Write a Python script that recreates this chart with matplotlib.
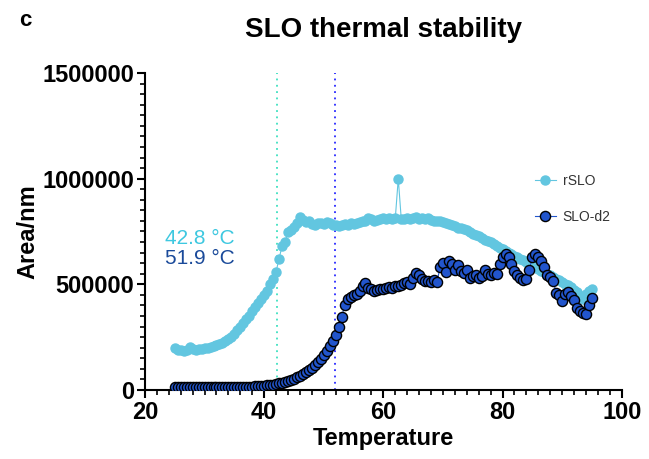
import numpy as np
import matplotlib
matplotlib.use('Agg')
import matplotlib.pyplot as plt
from matplotlib.ticker import MultipleLocator, FormatStrFormatter

plt.rcParams['font.family'] = ['Liberation Sans', 'DejaVu Sans']

# temperatures 25..95 in 0.5 steps
temp = np.arange(25, 95.01, 0.5)

# rSLO area (thousands)
rslo = [200, 190, 187, 185, 188, 205, 192, 190, 193, 195,
        197, 200, 203, 207, 212, 218, 224, 230, 240, 252,
        265, 282, 300, 318, 335, 352, 375, 395, 410, 430,
        450, 468, 500, 525, 560, 622, 680, 700, 748, 758,
        770, 790, 818, 805, 795, 800, 785, 780, 790, 788,
        785, 795, 788, 780, 782, 778, 780, 785, 782, 788,
        785, 790, 795, 798, 800, 815, 810, 800, 805, 808,
        812, 808, 815, 810, 812, 1000, 810, 808, 815, 810,
        812, 818, 808, 812, 810, 815, 805, 800, 802, 798,
        795, 790, 785, 780, 775, 768, 765, 760, 755, 748,
        740, 732, 728, 720, 712, 705, 698, 690, 682, 672,
        665, 658, 650, 643, 635, 628, 620, 614, 607, 598,
        590, 582, 572, 565, 558, 550, 543, 535, 527, 520,
        512, 503, 495, 486, 475, 462, 445, 432, 455, 468,
        480]

# SLO-d2 area (thousands)
slod2 = [15, 15, 14, 15, 15, 14, 15, 15, 15, 14,
         15, 15, 15, 15, 15, 15, 15, 15, 15, 15,
         15, 15, 15, 15, 15, 15, 16, 17, 18, 19,
         20, 22, 24, 26, 28, 31, 34, 38, 42, 47,
         53, 60, 67, 75, 84, 95, 106, 118, 132, 148,
         165, 185, 207, 232, 262, 300, 345, 400, 430, 440,
         450, 455, 470, 490, 505, 485, 478, 470, 472, 478,
         480, 483, 487, 485, 490, 492, 495, 505, 512, 500,
         530, 555, 545, 525, 518, 515, 512, 520, 510, 580,
         600, 560, 610, 595, 570, 590, 565, 555, 568, 530,
         540, 545, 530, 540, 568, 548, 545, 552, 550, 595,
         630, 645, 630, 595, 565, 545, 530, 520, 525, 570,
         630, 645, 630, 610, 580, 545, 535, 515, 460, 450,
         420, 455, 465, 445, 425, 390, 372, 365, 362, 400,
         435]

tm_rslo = 42.1
tm_slod2 = 51.9

rslo = np.array(rslo) * 1000
slod2 = np.array(slod2) * 1000

fig = plt.figure(figsize=(6.49, 4.59), dpi=100)
ax = fig.add_axes([0.2234, 0.1503, 0.7346, 0.6907])

ax.plot(temp, rslo, '-o', color='#62C6E0', lw=0.8, ms=6.5, mec='#62C6E0', label='rSLO', zorder=3)
ax.plot(temp, slod2, '-o', color='#2255CC', lw=0.8, ms=7.3, mfc='#2255CC', mec='black', mew=1.0,
        label='SLO-d2', zorder=4)

ax.vlines(tm_rslo, 0, 1500000, colors='#3EE0C0', linestyles=(0, (1, 2.5)), lw=1.3, zorder=2)
ax.vlines(tm_slod2, 0, 1500000, colors='#2828FF', linestyles=(0, (1, 2.5)), lw=1.3, zorder=2)

ax.text(23.4, 719000, '42.8 °C', color='#3EC8E0', fontsize=15, va='center')
ax.text(23.4, 622000, '51.9 °C', color='#1A4A9A', fontsize=15, va='center')

ax.set_xlim(20, 100)
ax.set_ylim(0, 1500000)
ax.xaxis.set_major_locator(MultipleLocator(20))
ax.xaxis.set_minor_locator(MultipleLocator(2))
ax.yaxis.set_major_locator(MultipleLocator(500000))
ax.yaxis.set_minor_locator(MultipleLocator(50000))
ax.yaxis.set_major_formatter(FormatStrFormatter('%d'))

for s in ['top', 'right']:
    ax.spines[s].set_visible(False)
for s in ['left', 'bottom']:
    ax.spines[s].set_linewidth(1.5)
ax.tick_params(which='major', length=6, width=1.5, labelsize=17, pad=2)
ax.tick_params(which='minor', length=3.5, width=1.2)
for lab in ax.get_xticklabels() + ax.get_yticklabels():
    lab.set_fontweight('bold')

ax.set_xlabel('Temperature', fontsize=17, fontweight='bold', labelpad=2)
ax.set_ylabel('Area/nm', fontsize=17, fontweight='bold', labelpad=2)

ax.legend(loc='upper left', bbox_to_anchor=(0.805, 0.648), bbox_transform=fig.transFigure,
          frameon=False, fontsize=10, labelspacing=1.6, handlelength=1.5, handletextpad=0.5,
          labelcolor='#333333')

fig.text(0.5915, 0.935, 'SLO thermal stability', ha='center', va='center', fontsize=20, fontweight='bold')
fig.text(0.03, 0.955, 'c', ha='left', va='center', fontsize=16, fontweight='bold')

fig.savefig('out.png', dpi=100)
